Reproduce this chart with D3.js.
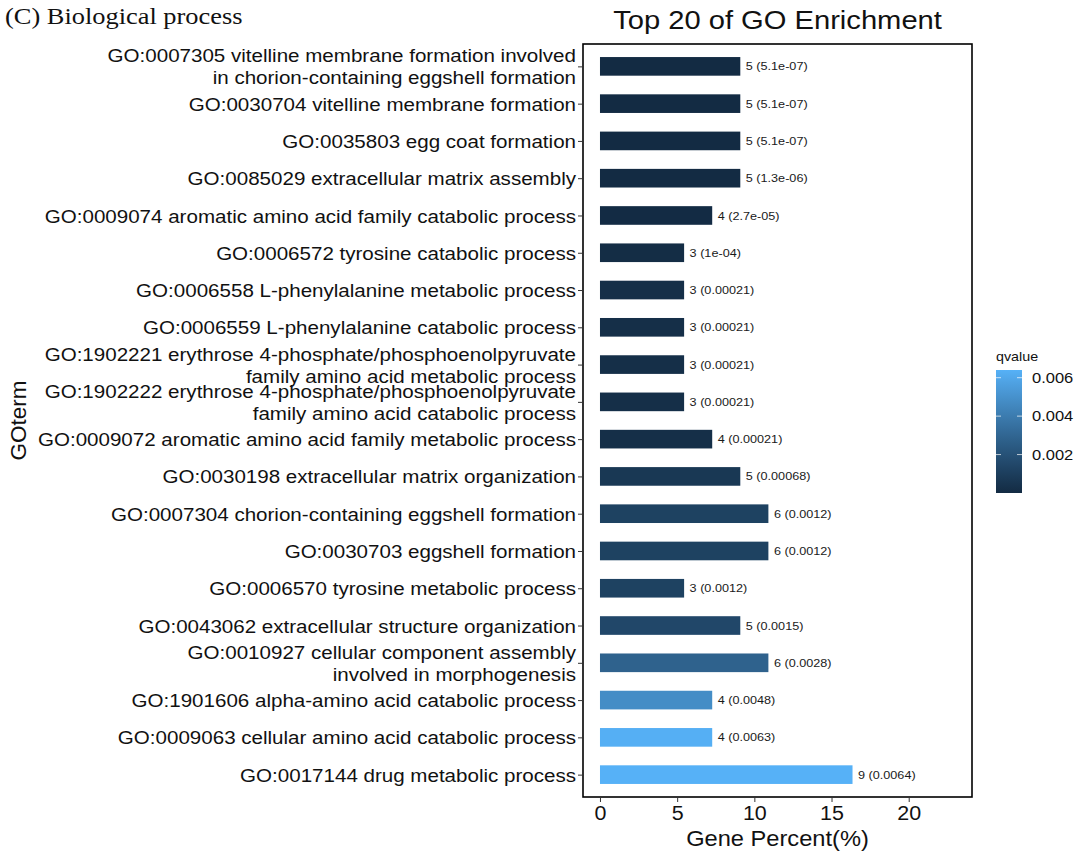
<!DOCTYPE html>
<html>
<head>
<meta charset="utf-8">
<script src="https://cdn.jsdelivr.net/npm/d3@7"></script>
<style>
  html, body { margin: 0; padding: 0; background: #fff; }
  svg { display: block; }
</style>
</head>
<body>
<svg id="chart" width="1081" height="854"></svg>
<script>
// GO terms, top to bottom; "\n" marks a wrapped label line
const goTerms = [
  "GO:0007305 vitelline membrane formation involved\nin chorion-containing eggshell formation",
  "GO:0030704 vitelline membrane formation",
  "GO:0035803 egg coat formation",
  "GO:0085029 extracellular matrix assembly",
  "GO:0009074 aromatic amino acid family catabolic process",
  "GO:0006572 tyrosine catabolic process",
  "GO:0006558 L-phenylalanine metabolic process",
  "GO:0006559 L-phenylalanine catabolic process",
  "GO:1902221 erythrose 4-phosphate/phosphoenolpyruvate\nfamily amino acid metabolic process",
  "GO:1902222 erythrose 4-phosphate/phosphoenolpyruvate\nfamily amino acid catabolic process",
  "GO:0009072 aromatic amino acid family metabolic process",
  "GO:0030198 extracellular matrix organization",
  "GO:0007304 chorion-containing eggshell formation",
  "GO:0030703 eggshell formation",
  "GO:0006570 tyrosine metabolic process",
  "GO:0043062 extracellular structure organization",
  "GO:0010927 cellular component assembly\ninvolved in morphogenesis",
  "GO:1901606 alpha-amino acid catabolic process",
  "GO:0009063 cellular amino acid catabolic process",
  "GO:0017144 drug metabolic process"
];

// gene counts per term
const geneCounts = [5, 5, 5, 5, 4, 3, 3, 3, 3, 3, 4, 5, 6, 6, 3, 5, 6, 4, 4, 9];

// gene percent (%) per term
const genePercent = [9.09, 9.09, 9.09, 9.09, 7.27, 5.45, 5.45, 5.45, 5.45, 5.45,
                     7.27, 9.09, 10.91, 10.91, 5.45, 9.09, 10.91, 7.27, 7.27, 16.36];

// q-values as printed
const qValues = ["5.1e-07", "5.1e-07", "5.1e-07", "1.3e-06", "2.7e-05", "1e-04",
                 "0.00021", "0.00021", "0.00021", "0.00021", "0.00021", "0.00068",
                 "0.0012", "0.0012", "0.0012", "0.0015", "0.0028", "0.0048",
                 "0.0063", "0.0064"];

const xTicks = [0, 5, 10, 15, 20];
const legendTicks = [0.002, 0.004, 0.006];

const rows = goTerms.map((t, i) => ({
  term: t, count: geneCounts[i], pct: genePercent[i], qText: qValues[i], q: +qValues[i]
}));

const svg = d3.select("#chart");
const panel = { left: 583, right: 972, top: 44, bottom: 797 };
const sans = "'Liberation Sans', Arial, sans-serif";
const SX = 1.1; // horizontal widening of the lettering

// place a text at (px, py) with widened glyphs
function placeText(sel, px, py) {
  return sel.attr("transform", (d, i) => {
    const X = typeof px === "function" ? px(d, i) : px;
    const Y = typeof py === "function" ? py(d, i) : py;
    return `translate(${X},${Y}) scale(${SX},1)`;
  });
}

const x = d3.scaleLinear().domain([-1.1, 24.1]).range([panel.left, panel.right]);

// discrete axis with 0.6 band expansion at each end
const y = d3.scaleLinear()
  .domain([1 - 0.6, goTerms.length + 0.6])
  .range([panel.top, panel.bottom]);
const step = y(2) - y(1);

const qExtent = d3.extent(rows, d => d.q);
const color = d3.scaleLinear()
  .domain(qExtent)
  .range(["#132B43", "#56B1F7"])
  .interpolate(d3.interpolateLab);

// bars
svg.append("g").selectAll("rect").data(rows).join("rect")
  .attr("x", x(0))
  .attr("y", (d, i) => y(i + 1) - step * 0.25)
  .attr("width", d => x(d.pct) - x(0))
  .attr("height", step * 0.5)
  .attr("fill", d => color(d.q));

// value labels
placeText(
  svg.append("g").selectAll("text").data(rows).join("text")
    .attr("dy", "0.35em")
    .attr("font-family", sans)
    .attr("font-size", 11.5)
    .attr("fill", "#1a1a1a")
    .text(d => `${d.count} (${d.qText})`),
  d => x(d.pct) + 5.5, (d, i) => y(i + 1));

// panel border
svg.append("rect")
  .attr("x", panel.left).attr("y", panel.top)
  .attr("width", panel.right - panel.left).attr("height", panel.bottom - panel.top)
  .attr("fill", "none").attr("stroke", "#000").attr("stroke-width", 1.6);

// y axis (term labels)
const yAxis = d3.axisLeft(y)
  .tickValues(d3.range(1, goTerms.length + 1))
  .tickSize(5)
  .tickPadding(3)
  .tickFormat(() => "");
const gy = svg.append("g").attr("transform", `translate(${panel.left},0)`).call(yAxis);
gy.select(".domain").remove();
gy.selectAll(".tick line").attr("stroke", "#333").attr("stroke-width", 1);
gy.selectAll(".tick").each(function (v) {
  const lines = goTerms[v - 1].split("\n");
  const t = d3.select(this).append("text")
    .attr("transform", `translate(-7,0) scale(${SX},1)`)
    .attr("text-anchor", "end")
    .attr("font-family", sans)
    .attr("font-size", 18.7)
    .attr("fill", "#111");
  const lh = 22;
  lines.forEach((ln, k) => {
    t.append("tspan")
      .attr("x", 0)
      .attr("y", (k - (lines.length - 1) / 2) * lh)
      .attr("dy", "0.35em")
      .text(ln);
  });
});

// x axis
const xAxis = d3.axisBottom(x).tickValues(xTicks).tickSize(5).tickPadding(4);
const gx = svg.append("g").attr("transform", `translate(0,${panel.bottom})`).call(xAxis);
gx.select(".domain").remove();
gx.selectAll(".tick line").attr("stroke", "#333");
gx.selectAll(".tick text")
  .attr("transform", `scale(${SX},1)`)
  .attr("font-family", sans).attr("font-size", 19.5).attr("fill", "#111");

// axis titles
placeText(
  svg.append("text")
    .attr("text-anchor", "middle")
    .attr("font-family", sans).attr("font-size", 21.5).attr("fill", "#111")
    .text("Gene Percent(%)"),
  (panel.left + panel.right) / 2, 846);

svg.append("text")
  .attr("transform", `translate(26,${(panel.top + panel.bottom) / 2}) rotate(-90)`)
  .attr("text-anchor", "middle")
  .attr("font-family", sans).attr("font-size", 22.5).attr("fill", "#111")
  .text("GOterm");

// plot title
placeText(
  svg.append("text")
    .attr("text-anchor", "middle")
    .attr("font-family", sans).attr("font-size", 26.5).attr("fill", "#111")
    .text("Top 20 of GO Enrichment"),
  (panel.left + panel.right) / 2, 28.5);

// panel tag
placeText(
  svg.append("text")
    .attr("font-family", "'Liberation Serif', 'Times New Roman', serif")
    .attr("font-size", 24).attr("fill", "#111")
    .text("(C) Biological process"),
  5, 24);

// colour bar legend
const lg = { x: 996, w: 26, top: 370, bottom: 493 };
const defs = svg.append("defs");
const grad = defs.append("linearGradient").attr("id", "qgrad")
  .attr("x1", 0).attr("y1", 1).attr("x2", 0).attr("y2", 0);
d3.range(0, 1.0001, 0.1).forEach(f => {
  grad.append("stop").attr("offset", f)
    .attr("stop-color", color(qExtent[0] + f * (qExtent[1] - qExtent[0])));
});
const ly = d3.scaleLinear().domain(qExtent).range([lg.bottom, lg.top]);
svg.append("rect")
  .attr("x", lg.x).attr("y", lg.top).attr("width", lg.w).attr("height", lg.bottom - lg.top)
  .attr("fill", "url(#qgrad)");
const lt = svg.append("g").selectAll("g").data(legendTicks).join("g");
lt.append("line")
  .attr("x1", lg.x).attr("x2", lg.x + 5)
  .attr("y1", d => ly(d)).attr("y2", d => ly(d))
  .attr("stroke", "#fff").attr("stroke-opacity", 0.7);
lt.append("line")
  .attr("x1", lg.x + lg.w - 5).attr("x2", lg.x + lg.w)
  .attr("y1", d => ly(d)).attr("y2", d => ly(d))
  .attr("stroke", "#fff").attr("stroke-opacity", 0.7);
placeText(
  lt.append("text")
    .attr("dy", "0.35em")
    .attr("font-family", sans).attr("font-size", 15).attr("fill", "#111")
    .text(d => d3.format(".3f")(d)),
  lg.x + lg.w + 10, d => ly(d));
placeText(
  svg.append("text")
    .attr("font-family", sans).attr("font-size", 13).attr("fill", "#111")
    .text("qvalue"),
  lg.x, 361);
</script>
</body>
</html>
